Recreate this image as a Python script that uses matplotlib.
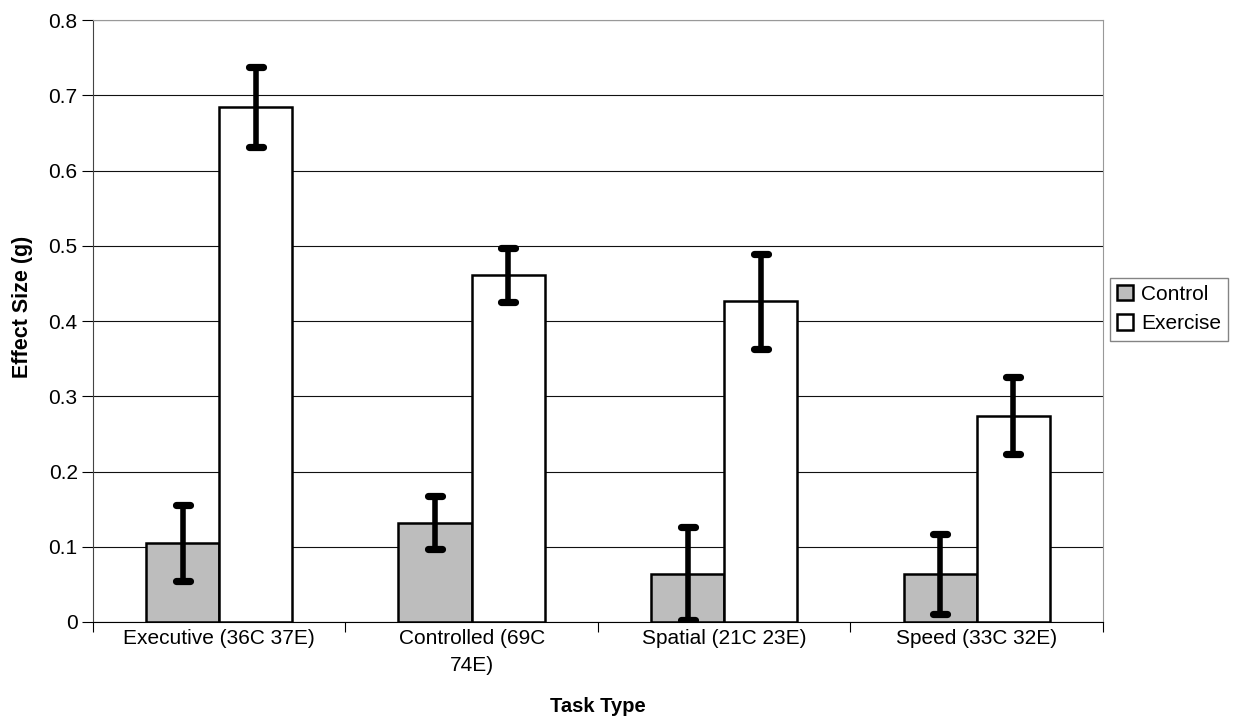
import numpy as np
import matplotlib.pyplot as plt
from matplotlib.patches import Patch

plt.rcParams['font.family'] = ['Liberation Sans', 'DejaVu Sans']

categories = ["Executive (36C 37E)", "Controlled (69C\n74E)", "Spatial (21C 23E)", "Speed (33C 32E)"]
control = [0.105, 0.132, 0.064, 0.064]
control_err = [0.050, 0.035, 0.062, 0.053]
exercise = [0.684, 0.461, 0.426, 0.274]
exercise_err = [0.053, 0.036, 0.063, 0.051]
y_ticks = [0, 0.1, 0.2, 0.3, 0.4, 0.5, 0.6, 0.7, 0.8]

fig = plt.figure(figsize=(12.36, 7.23), dpi=100)
ax = fig.add_axes([0.0752, 0.1397, 0.8172, 0.8326])

x = np.arange(len(categories))
w = 0.29
cap = 0.028

ax.bar(x - w / 2, control, w, color='#bdbdbd', edgecolor='black', linewidth=1.8, zorder=3)
ax.bar(x + w / 2, exercise, w, color='white', edgecolor='black', linewidth=1.8, zorder=3)

# error bars drawn by hand so the caps get round ends
for xs, vals, errs in [(x - w / 2, control, control_err), (x + w / 2, exercise, exercise_err)]:
    lo = np.array(vals) - np.array(errs)
    hi = np.array(vals) + np.array(errs)
    ax.vlines(xs, lo, hi, color='black', linewidth=4.0, zorder=4)
    for y in (lo, hi):
        ax.hlines(y, xs - cap, xs + cap, color='black', linewidth=5.2, zorder=5,
                  capstyle='round')

ax.set_xlim(-0.5, len(categories) - 0.5)
ax.set_ylim(0, 0.8)
ax.set_yticks(y_ticks)
ax.set_yticklabels([("%g" % t) for t in y_ticks])
ax.set_xticks(np.arange(len(categories) + 1) - 0.5)
ax.set_xticklabels([])
ax.set_xticks(x, minor=True)
ax.set_xticklabels(categories, minor=True, fontsize=15, linespacing=1.55)
ax.tick_params(axis='x', which='minor', length=0, pad=5)
ax.tick_params(axis='x', which='major', length=7, direction='out', width=0.8)
ax.tick_params(axis='y', length=8, direction='out', width=0.8, labelsize=15, pad=3)

ax.yaxis.grid(True, color='#111111', linewidth=0.8, zorder=0)
ax.set_axisbelow(True)
ax.spines['left'].set_color('#444444')
ax.spines['bottom'].set_color('black')
ax.spines['top'].set_color('#999999')
ax.spines['right'].set_color('#999999')

ax.set_xlabel("Task Type", fontsize=14.5, fontweight='bold', labelpad=16)
ax.set_ylabel("Effect Size (g)", fontsize=15.5, fontweight='bold')
ax.yaxis.set_label_coords(-0.059, 0.523)

handles = [Patch(facecolor='#bdbdbd', edgecolor='black', linewidth=1.8),
           Patch(facecolor='white', edgecolor='black', linewidth=1.8)]
fig.legend(handles, ["Control", "Exercise"], loc='upper left',
           bbox_to_anchor=(0.898, 0.616), fontsize=15, frameon=True,
           fancybox=False, edgecolor='#666666', handlelength=0.75,
           handleheight=0.75, handletextpad=0.4, borderpad=0.35,
           labelspacing=0.5, borderaxespad=0)

fig.savefig("out.png", dpi=100)
